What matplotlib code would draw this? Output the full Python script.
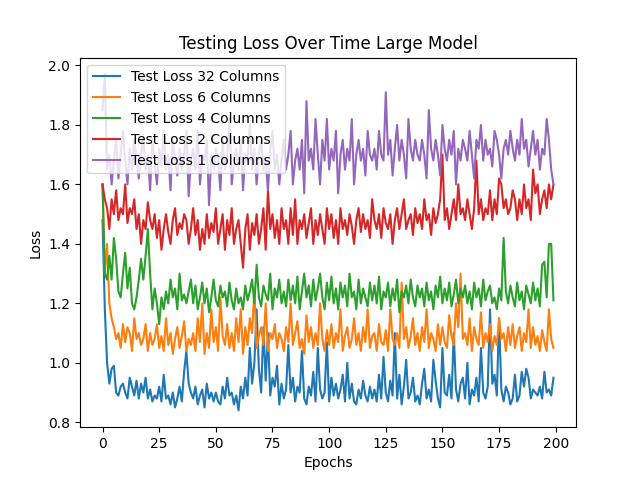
import numpy as np
import matplotlib
matplotlib.use("Agg")
import matplotlib.pyplot as plt

loss32 = [148,118,100,93,98,99,90,89,92,93,90,88,95,92,89,94,88,93,90,95,
88,91,87,89,88,92,87,96,88,89,86,90,85,88,92,87,97,104,93,90,
88,92,86,89,91,85,93,88,90,87,90,87,86,92,88,95,89,90,86,89,
84,92,88,95,89,105,93,100,118,98,90,112,94,110,89,95,92,99,86,93,
88,91,106,90,95,87,92,90,104,88,86,92,89,97,87,105,91,88,90,107,
87,95,89,93,88,91,96,87,100,88,93,87,86,91,88,94,89,87,92,88,
91,87,96,88,102,90,87,94,89,110,88,96,86,92,101,88,90,95,87,89,
86,93,98,88,91,87,101,94,88,85,105,90,89,96,88,110,91,87,93,95,
88,100,86,91,89,95,87,105,90,88,92,118,93,96,89,115,91,87,92,90,
86,88,96,87,89,97,92,98,95,88,91,90,89,92,88,97,90,91,89,95]
loss6 = [160,130,140,120,115,112,108,110,105,113,107,112,110,104,115,108,110,106,108,113,
104,110,106,108,113,105,109,104,115,106,110,103,108,112,105,109,114,104,108,106,
110,104,115,107,120,103,110,105,118,107,112,104,122,109,106,113,105,110,104,115,
107,118,103,112,106,115,110,125,105,109,112,106,120,104,110,108,113,105,110,108,
104,112,107,120,106,110,114,105,108,103,116,107,112,105,110,106,120,108,104,111,
106,113,105,110,107,118,104,109,112,105,108,115,106,110,104,112,107,118,105,109,
110,104,113,107,106,111,104,118,108,106,110,105,127,108,112,105,109,115,106,110,
104,112,107,118,105,110,108,104,113,106,112,107,105,116,109,106,120,112,130,108,
110,106,115,104,112,108,106,117,105,110,107,113,104,109,106,115,108,110,104,112,
106,113,105,109,112,104,110,107,118,105,112,106,109,104,111,107,104,118,108,105]
loss4 = [160,130,128,136,128,142,135,124,122,130,137,125,132,120,118,122,128,135,128,136,
145,130,118,125,120,113,122,118,124,120,128,122,125,118,130,121,123,120,124,128,
120,126,118,122,127,120,125,117,122,128,121,119,126,122,124,119,127,121,118,125,
120,122,118,126,121,124,128,120,133,122,119,126,123,121,130,118,125,122,128,120,
124,119,128,121,126,120,129,118,124,130,122,126,119,128,121,125,130,122,118,127,
121,129,120,125,118,127,122,126,119,130,122,124,118,128,120,125,122,119,127,121,
126,120,129,118,124,122,127,119,125,121,128,117,124,122,126,120,128,122,119,126,
122,125,119,127,121,124,118,126,122,129,120,125,121,127,119,123,128,120,125,122,
126,120,124,118,127,122,125,119,128,121,124,126,120,122,118,125,121,142,124,120,
126,122,119,127,121,124,118,126,123,120,127,121,125,119,133,134,122,140,140,121]
loss2 = [160,155,152,145,155,150,158,148,152,150,160,147,152,150,155,145,150,140,148,145,
154,148,145,150,142,148,138,145,150,144,140,148,152,143,147,145,150,148,140,145,
152,143,148,138,145,140,150,142,147,144,152,140,145,150,138,148,143,152,140,145,
148,140,132,145,150,138,147,143,150,140,145,152,138,158,145,150,142,148,140,152,
145,148,140,152,143,155,140,148,145,150,142,147,152,140,148,143,150,145,140,152,
145,150,142,148,140,152,145,148,143,150,146,140,148,152,144,150,145,148,142,155,
148,145,150,142,152,147,145,150,140,148,152,145,150,155,145,148,150,143,152,147,
150,145,155,148,150,143,152,147,150,155,170,148,152,145,150,155,148,160,150,152,
148,155,150,145,152,168,150,155,148,152,150,158,148,155,150,162,160,152,155,150,
152,158,155,148,155,150,160,152,155,148,165,157,160,150,155,158,152,160,155,160]
loss1 = [185,197,165,170,160,168,175,162,170,178,168,160,172,165,175,168,162,170,176,165,
170,158,175,168,160,172,166,178,165,170,158,175,168,163,172,165,170,178,156,168,
172,165,178,160,170,168,175,153,170,165,172,168,158,175,165,170,182,160,168,172,
165,175,158,170,168,180,165,172,160,170,175,165,168,158,172,178,165,170,160,168,
175,165,170,178,160,168,172,165,175,157,188,168,172,165,182,170,160,175,168,182,
165,172,168,178,157,170,175,165,172,168,182,160,170,175,168,172,163,178,170,168,
172,165,178,170,168,191,170,175,163,172,180,168,175,170,162,182,172,168,175,170,
168,175,170,162,185,172,168,175,170,163,180,172,168,175,170,178,160,172,168,175,
172,168,178,170,162,175,172,180,168,175,170,172,166,178,175,170,162,172,175,170,
178,172,168,175,170,182,172,175,166,172,178,170,175,165,172,170,182,175,165,160]

series = [(loss32, "Test Loss 32 Columns"), (loss6, "Test Loss 6 Columns"),
          (loss4, "Test Loss 4 Columns"), (loss2, "Test Loss 2 Columns"),
          (loss1, "Test Loss 1 Columns")]

fig, ax = plt.subplots(figsize=(6.4, 4.8), dpi=100)
for vals, lab in series:
    v = np.array(vals) / 100.0
    ax.plot(np.arange(len(v)), v, label=lab)
ax.set_title("Testing Loss Over Time Large Model")
ax.set_xlabel("Epochs")
ax.set_ylabel("Loss")
ax.legend(loc="upper left")
fig.savefig("out.png")
